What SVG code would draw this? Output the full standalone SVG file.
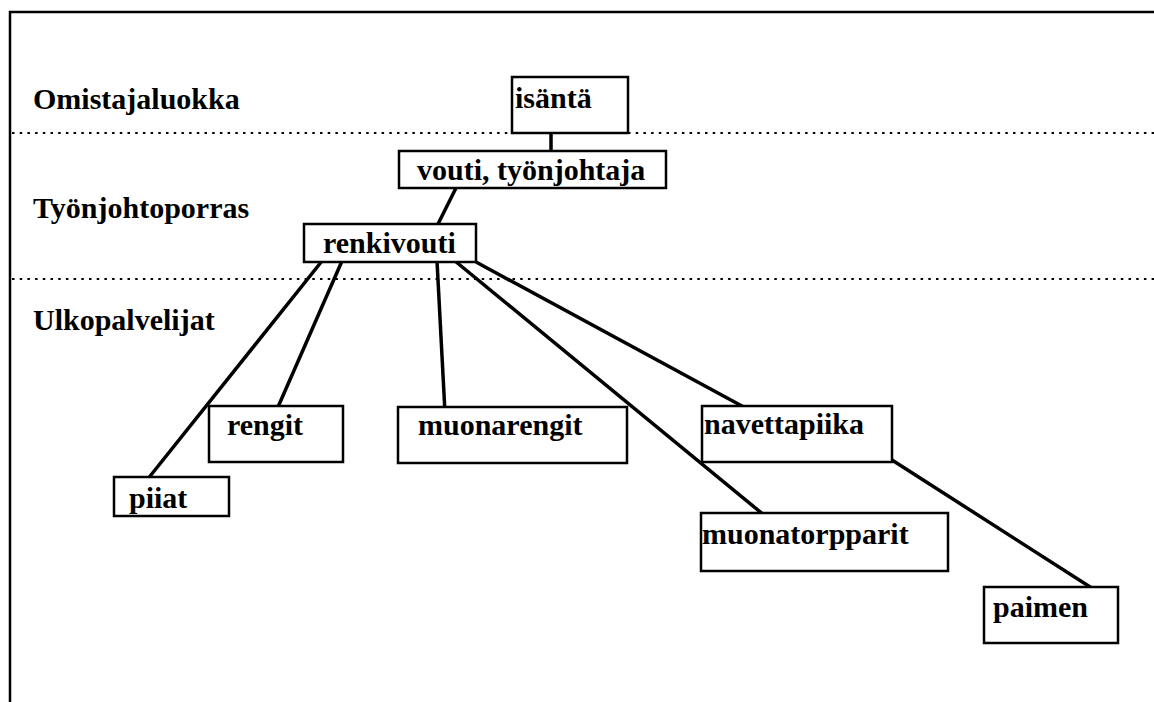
<svg xmlns="http://www.w3.org/2000/svg" width="1154" height="702" viewBox="0 0 1154 702">
<style>
text{font-family:"Liberation Serif","Times New Roman",serif;font-weight:bold;font-size:30px;fill:#000}
.box{fill:#fff;stroke:#000;stroke-width:2.5}
.dot{stroke:#000;stroke-width:2;stroke-dasharray:2.5 5.2;fill:none}
#connectors line{stroke:#000;stroke-width:3.5}
</style>
<rect x="0" y="0" width="1154" height="702" fill="#fff"/>
<path d="M10,702 V12 H1154" fill="none" stroke="#000" stroke-width="2.5"/>
<line class="dot" x1="12" y1="133" x2="1154" y2="133"/>
<line class="dot" x1="12" y1="279" x2="1154" y2="279"/>
<text x="33" y="109">Omistajaluokka</text>
<text x="33" y="218">Työnjohtoporras</text>
<text x="33" y="330">Ulkopalvelijat</text>
<g id="connectors">
<line x1="551" y1="133" x2="551" y2="151"/>
<line x1="456" y1="188" x2="438" y2="224"/>
<line x1="322" y1="261" x2="147" y2="480"/>
<line x1="342" y1="261" x2="278" y2="407"/>
<line x1="437" y1="261" x2="445" y2="413"/>
<line x1="455" y1="261" x2="770" y2="520"/>
<line x1="476" y1="262" x2="753" y2="412"/>
<line x1="892" y1="460" x2="1098" y2="592"/>
</g>
<g id="isanta"><rect class="box" x="512" y="77" width="116" height="56"/><text x="515" y="108">isäntä</text></g>
<g id="vouti"><rect class="box" x="399" y="151" width="267" height="37"/><text x="417" y="180">vouti, työnjohtaja</text></g>
<g id="renkivouti"><rect class="box" x="304" y="224" width="172" height="38"/><text x="323" y="253">renkivouti</text></g>
<g id="rengit"><rect class="box" x="209" y="406" width="134" height="56"/><text x="227" y="435">rengit</text></g>
<g id="piiat"><rect class="box" x="114" y="477" width="115" height="39"/><text x="129" y="508">piiat</text></g>
<g id="muonarengit"><rect class="box" x="398" y="407" width="229" height="56"/><text x="418" y="435">muonarengit</text></g>
<g id="navettapiika"><rect class="box" x="702" y="406" width="190" height="56"/><text x="704" y="434">navettapiika</text></g>
<g id="muonatorpparit"><rect class="box" x="701" y="513" width="247" height="58"/><text x="702" y="544">muonatorpparit</text></g>
<g id="paimen"><rect class="box" x="984" y="587" width="134" height="56"/><text x="993" y="617">paimen</text></g>
</svg>
